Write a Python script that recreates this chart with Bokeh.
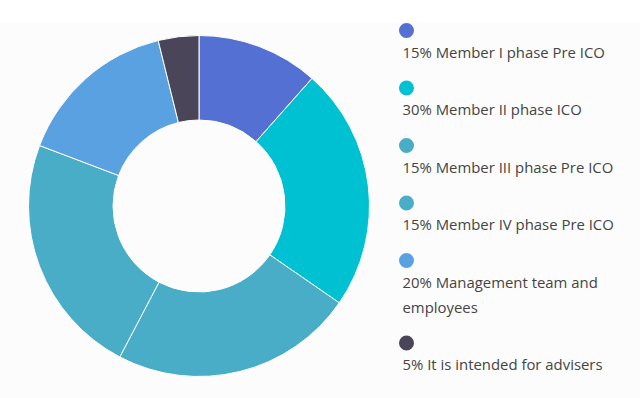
import math
from bokeh.plotting import figure
from bokeh.models import Range1d, ColumnDataSource, Spacer
from bokeh.layouts import column
from bokeh.core.properties import value
from bokeh.embed import file_html
from bokeh.resources import INLINE

# ---- data ----
values = [15, 30, 30, 30, 20, 5]
colors = ["#5470d2", "#00c1d2", "#4aadc8", "#4aadc8", "#5aa1e2", "#4b4559"]
labels = [
    ["15% Member I phase Pre ICO"],
    ["30% Member II phase ICO"],
    ["15% Member III phase Pre ICO"],
    ["15% Member IV phase Pre ICO"],
    ["20% Management team and", "employees"],
    ["5% It is intended for advisers"],
]

TOP = 22
W, H = 640, 398 - TOP

p = figure(width=W, height=H, output_backend="svg", toolbar_location=None,
           x_range=Range1d(0, W), y_range=Range1d(-398, -TOP),
           x_axis_type=None, y_axis_type=None, min_border=0,
           background_fill_color="#fbfcfb", border_fill_color="#fbfcfb",
           outline_line_color=None)
p.grid.visible = False

# donut
total = float(sum(values))
cum = [0.0]
for v in values:
    cum.append(cum[-1] + v / total)
starts = [math.pi / 2 - 2 * math.pi * c for c in cum[:-1]]
ends = [math.pi / 2 - 2 * math.pi * c for c in cum[1:]]
src = ColumnDataSource(dict(start=starts, end=ends, color=colors))
p.annular_wedge(x=198.5, y=-205.5, inner_radius=86, outer_radius=170.5,
                start_angle="start", end_angle="end", direction="clock",
                fill_color="color", line_color="white", line_width=1, source=src)

# legend
mx, my = [], []
t_x, t_y, t_text = [], [], []
y = 30.0
for i, lab in enumerate(labels):
    mx.append(406)
    my.append(-y)
    for j, line in enumerate(lab):
        t_x.append(402)
        t_y.append(-(y + 21 + 25 * j))
        t_text.append(line)
    y += 57.5 + 25 * (len(lab) - 1)

p.scatter(x=mx, y=my, size=15, marker="circle", fill_color=colors, line_color=None)
p.text(x=t_x, y=t_y, text=t_text, text_font=value("Open Sans"), text_font_size="14.9px",
       text_color="#454545", text_baseline="middle", text_align="left")

layout = column(Spacer(height=TOP, width=W), p)
open("out.html", "w").write(file_html(layout, INLINE))
